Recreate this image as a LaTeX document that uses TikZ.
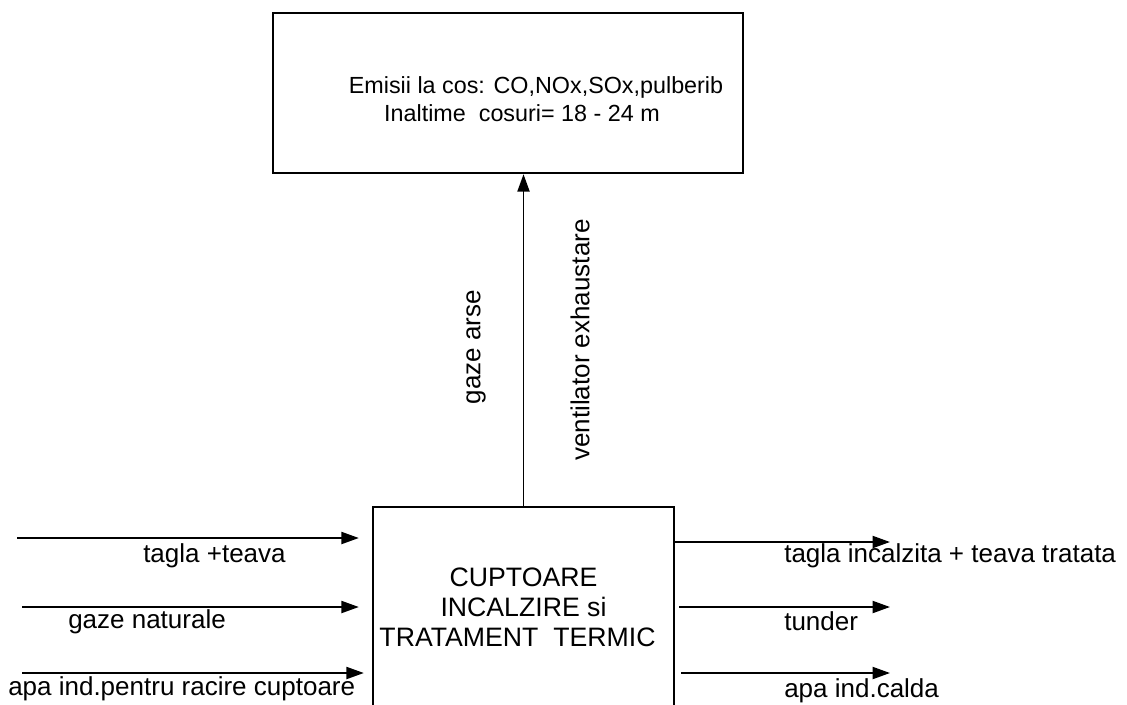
\documentclass[tikz,border=0pt]{standalone}
\usepackage{fontspec}
\setmainfont{Liberation Sans}
\usetikzlibrary{arrows.meta, positioning}

\begin{document}
\begin{tikzpicture}[x=0.75pt, y=-0.75pt]
        \tikzstyle{block} = [rectangle, draw, line width=1.8pt, inner sep=0pt, align=center]
        \tikzstyle{line} = [draw, line width=1.4pt, -{Triangle[length=13pt, width=9pt]}]
        \tikzstyle{lbl} = [inner sep=0pt, font=\fontsize{19.5}{23}\selectfont]

        \useasboundingbox (0,0) rectangle (1127,704);

        \node [block, minimum width=352.5pt, minimum height=120pt] (emisii) at (508,93) {};
        \node [align=center, inner sep=0pt, font=\fontsize{17.5}{21.5}\selectfont] (emisiitxt) at (529,99) {\hspace*{10.5pt}Emisii la cos: CO,NOx,SOx,pulberib\\Inaltime~ cosuri= 18 - 24 m\hspace*{10.5pt}};
        \node [block, minimum width=225.75pt, minimum height=150pt, font=\fontsize{20}{22.5}\selectfont] (cuptoare) at (523.5,607) {CUPTOARE\\INCALZIRE si\\TRATAMENT~ TERMIC\hspace*{9pt}};

        % intrari
        \coordinate (in1) at (17,538);
        \coordinate (in2) at (22,607);
        \coordinate (in3) at (22,673);
        % iesiri
        \coordinate (out1) at (890,542);
        \coordinate (out2) at (890,607);
        \coordinate (out3) at (890,673);

        \path [line] (cuptoare.north) -- (cuptoare.north |- emisii.south);
        \path [line, shorten >=9.75pt] (in1) -- (in1 -| cuptoare.west);
        \path [line, shorten >=9.75pt] (in2) -- (in2 -| cuptoare.west);
        \path [line, shorten >=6pt] (in3) -- (in3 -| cuptoare.west);
        \path [line] (out1 -| cuptoare.east) -- (out1);
        \path [line, shorten <=3pt] (out2 -| cuptoare.east) -- (out2);
        \path [line, shorten <=4.5pt] (out3 -| cuptoare.east) -- (out3);

        \node [lbl, rotate=90] (gaze) at (476,347) {gaze arse};
        \node [lbl, rotate=90] (vent) at (580,340) {ventilator exhaustare};

        \node [lbl, anchor=base west] (tagla) at (143,562) {tagla +teava};
        \node [lbl, anchor=base west] (gazenat) at (68,628) {gaze naturale};
        \node [lbl, anchor=base west] (apa) at (8,695) {apa ind.pentru racire cuptoare};
        \node [lbl, anchor=base west] (taglacalda) at (784,562) {tagla incalzita + teava tratata};
        \node [lbl, anchor=base west] (tunder) at (784,630) {tunder};
        \node [lbl, anchor=base west] (apacalda) at (784,697) {apa ind.calda};
    \end{tikzpicture}
\end{document}
